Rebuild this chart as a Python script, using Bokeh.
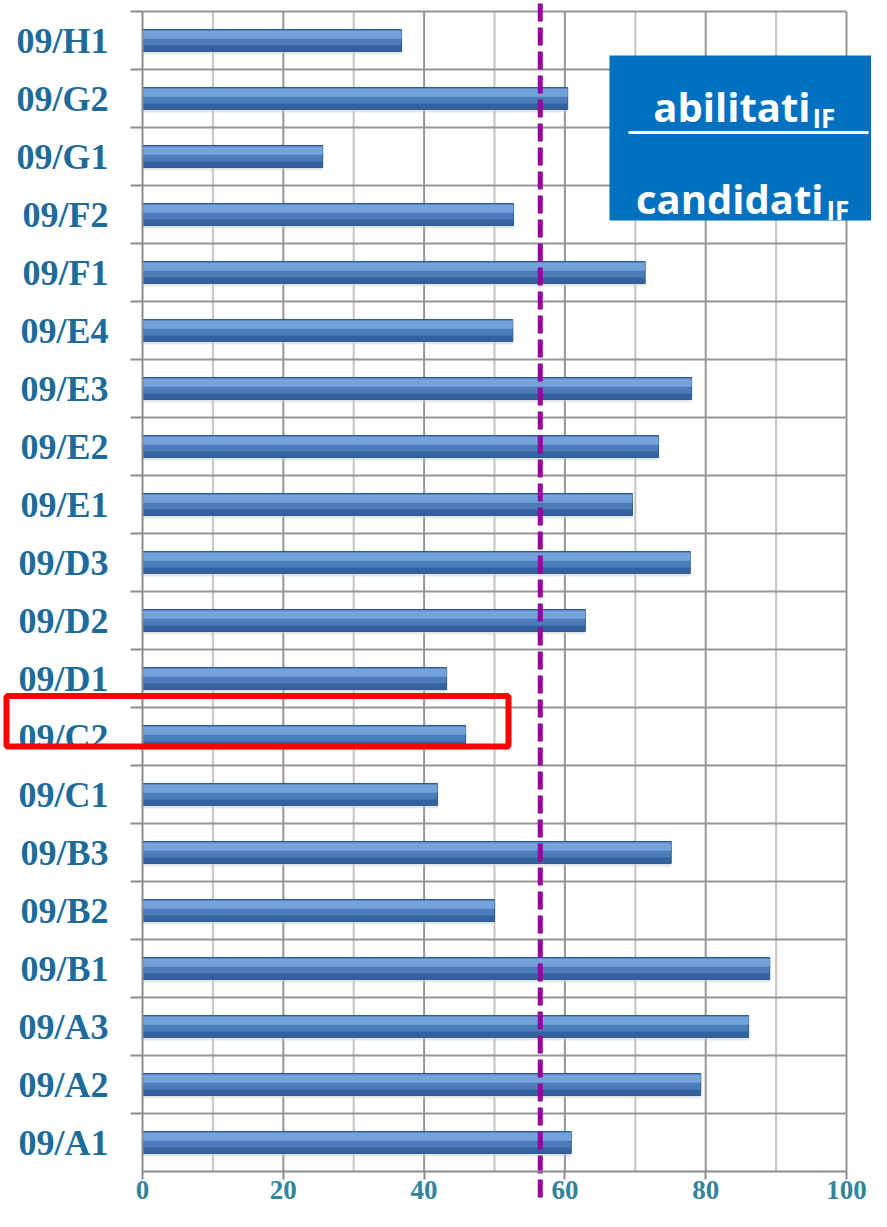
from bokeh.plotting import figure
from bokeh.models import Range1d, FixedTicker, BoxAnnotation, ColumnDataSource
from bokeh.core.properties import value
from bokeh.transform import dodge
from bokeh.embed import file_html
from bokeh.resources import INLINE

# ---- data (bottom -> top) ----
categories = ["09/A1", "09/A2", "09/A3", "09/B1", "09/B2", "09/B3", "09/C1", "09/C2",
              "09/D1", "09/D2", "09/D3", "09/E1", "09/E2", "09/E3", "09/E4", "09/F1",
              "09/F2", "09/G1", "09/G2", "09/H1"]
ratios = [60.9, 79.3, 86.1, 89.1, 50.0, 75.1, 41.9, 45.9,
          43.2, 62.9, 77.8, 69.6, 73.3, 78.0, 52.6, 71.4,
          52.7, 25.6, 60.4, 36.8]
x_ticks = [0, 20, 40, 60, 80, 100]
minor_grid = [10, 30, 50, 70, 90]
threshold = 56.5
highlight_cat = "09/C2"

pos = list(range(len(categories)))
bounds = [i + 0.5 for i in range(len(categories))]

# pixel -> data helpers for decorations (x=0 at px 142, 7.04 px/unit; y=19.5 at py 11, 58 px/unit)
def X(px):
    return (px - 142) / 7.04

def Y(py):
    return 19.5 - (py - 11) / 58.0

W, H = 871, 1211
p = figure(width=W, height=H, output_backend="svg", toolbar_location=None,
           x_range=Range1d(X(0), X(W)), y_range=Range1d(Y(H), Y(0)),
           min_border=0)
p.outline_line_color = None
p.xgrid.visible = False
p.ygrid.visible = False
p.background_fill_color = "white"
p.border_fill_color = "white"

# grid lines
maj_grid = [t for t in x_ticks if t > 0]
p.segment(x0=minor_grid, x1=minor_grid, y0=[-0.5] * len(minor_grid), y1=[19.5] * len(minor_grid),
          line_color="#C4C4C4", line_width=2)
p.segment(x0=maj_grid, x1=maj_grid, y0=[-0.5] * len(maj_grid), y1=[19.5] * len(maj_grid),
          line_color="#959595", line_width=2)
p.segment(x0=[0] * len(bounds), x1=[100] * len(bounds), y0=bounds, y1=bounds,
          line_color="#959595", line_width=2)

# bars
src = ColumnDataSource(dict(y=pos, v=ratios))
p.hbar(y=dodge("y", -0.05), left=0, right="v", height=0.38, source=src,
       fill_color="#D0D0D0", fill_alpha=0.5, line_color=None)
p.hbar(y="y", left=0, right="v", height=0.38, source=src,
       fill_color="#4A7DBA", line_color="#2B5A8E", line_width=1)
p.hbar(y=dodge("y", 0.10), left=0, right="v", height=0.14, source=src,
       fill_color="#74A3DC", line_color=None)
p.hbar(y=dodge("y", -0.135), left=0, right="v", height=0.10, source=src,
       fill_color="#33639C", line_color=None)

# threshold line (extends a little below the axis)
p.segment(x0=[threshold], x1=[threshold], y0=[Y(1197)], y1=[Y(0)],
          line_color="#9A009E", line_width=5, line_dash="18 6")

# axes
ya = p.yaxis[0]
ya.fixed_location = 0
ya.ticker = FixedTicker(ticks=pos, minor_ticks=bounds)
ya.major_label_overrides = {i: c for i, c in zip(pos, categories)}
ya.bounds = (-0.5, 19.5)
ya.major_tick_out = 0
ya.major_tick_in = 0
ya.minor_tick_out = 12
ya.minor_tick_in = 0
ya.minor_tick_line_color = "#8C8C8C"
ya.minor_tick_line_width = 2
ya.axis_line_color = "#8C8C8C"
ya.axis_line_width = 2
ya.major_label_standoff = 22
ya.major_label_text_font = "Liberation Serif"
ya.major_label_text_font_style = "bold"
ya.major_label_text_font_size = "36px"
ya.major_label_text_color = "#1D6B9B"

xa = p.xaxis[0]
xa.fixed_location = -0.5
xa.ticker = FixedTicker(ticks=x_ticks)
xa.bounds = (0, 100)
xa.major_tick_out = 8
xa.major_tick_in = 0
xa.minor_tick_line_color = None
xa.major_tick_line_color = "#8C8C8C"
xa.major_tick_line_width = 2
xa.axis_line_color = "#8C8C8C"
xa.axis_line_width = 2
xa.major_label_standoff = 1
xa.major_label_text_font = "Liberation Serif"
xa.major_label_text_font_style = "bold"
xa.major_label_text_font_size = "27px"
xa.major_label_text_color = "#31849B"

# highlight box around C2
hy = pos[categories.index(highlight_cat)]
p.add_layout(BoxAnnotation(left=X(6), right=X(508), top=Y(695.5), bottom=Y(746),
                           fill_alpha=0, line_color="#FF0000", line_alpha=1.0, line_width=6))

# formula box
p.quad(left=[X(609)], right=[X(W)], top=[Y(55)], bottom=[Y(220)],
       fill_color="#0070C0", line_color=None)
p.segment(x0=[X(628)], x1=[X(868)], y0=[Y(132)], y1=[Y(132)], line_color="white", line_width=3)
p.text(x=[X(810)], y=[Y(106)], text=["abilitati"], text_align="right", text_baseline="alphabetic",
       text_font=value("Open Sans"), text_font_style="bold", text_font_size="40px", text_color="white")
p.text(x=[X(812)], y=[Y(117)], text=["IF"], text_align="left", text_baseline="alphabetic",
       text_font=value("Open Sans"), text_font_style="bold", text_font_size="26px", text_color="white")
p.text(x=[X(823)], y=[Y(198)], text=["candidati"], text_align="right", text_baseline="alphabetic",
       text_font=value("Open Sans"), text_font_style="bold", text_font_size="40px", text_color="white")
p.text(x=[X(826)], y=[Y(209)], text=["IF"], text_align="left", text_baseline="alphabetic",
       text_font=value("Open Sans"), text_font_style="bold", text_font_size="26px", text_color="white")

open("out.html", "w").write(file_html(p, INLINE))
